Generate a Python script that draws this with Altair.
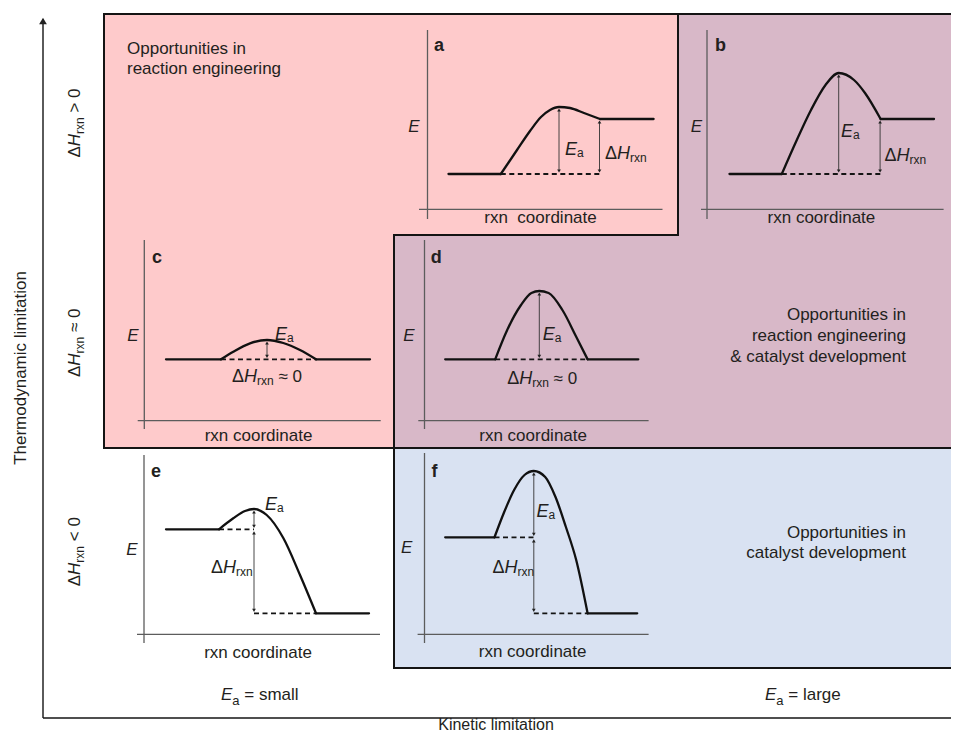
import altair as alt
import pandas as pd

INK = "#231f20"
FONT = "Liberation Sans"

# ---------------- background regions ----------------
REGION_X0 = [104, 678, 394, 394]
REGION_X1 = [678, 959, 959, 959]
REGION_Y0 = [14, 14, 235, 448]
REGION_Y1 = [448, 235, 448, 668]
REGION_FILL = ["#fecacb", "#d8b8c8", "#d8b8c8", "#d9e2f2"]

# region borders
BORDER_X0 = [104, 104, 678, 394, 394, 104, 394]
BORDER_Y0 = [14, 14, 14, 235, 235, 448, 668]
BORDER_X1 = [959, 104, 678, 678, 394, 959, 959]
BORDER_Y1 = [14, 448, 235, 235, 668, 448, 668]

# main axes (thermodynamic / kinetic limitation)
AXIS_X0 = [43, 43]
AXIS_Y0 = [718, 718]
AXIS_X1 = [43, 959]
AXIS_Y1 = [19, 718]
AXIS_TIP = (43, 17)

# ---------------- mini energy diagrams ----------------
PANELS = ["a", "b", "c", "d", "e", "f"]
VAXIS_X = [427.5, 707.0, 144.3, 424.5, 144.0, 424.5]
VAXIS_Y0 = [30, 30, 240, 240, 455, 453]
VAXIS_Y1 = [219, 219, 429, 429, 643, 643]
HAXIS_Y = [209.3, 209.3, 420.7, 420.7, 634.3, 634.3]
HAXIS_X0 = [419.0, 701.0, 137.7, 418.3, 137.0, 417.6]
HAXIS_X1 = [662.5, 943.6, 380.7, 648.6, 380.0, 648.6]

REACT_X0 = [448.5, 729.5, 166.0, 445.2, 166.0, 445.2]
REACT_X1 = [500.8, 781.8, 221.0, 495.2, 219.0, 494.5]
REACT_E = [174.0, 174.0, 359.3, 359.3, 529.3, 537.3]
PROD_X0 = [600.0, 880.6, 316.0, 587.6, 316.0, 587.6]
PROD_X1 = [653.6, 934.0, 370.0, 638.3, 369.0, 637.2]
PROD_E = [119.0, 119.0, 359.3, 359.3, 613.3, 613.3]
PEAK_X = [559.0, 838.7, 267.0, 539.3, 254.0, 533.8]
PEAK_E = [107.0, 73.0, 340.0, 291.0, 509.0, 471.0]

BARRIER_A_X = [500.8, 517, 530, 541, 550, 559, 570, 584, 600]
BARRIER_A_E = [174, 150, 131, 117, 110, 107, 108, 113, 119]
BARRIER_B_X = [781.8, 796.8, 811, 825.5, 838.7, 854, 865, 880.6]
BARRIER_B_E = [174, 140, 110, 85, 73, 80, 93, 119]
BARRIER_C_X = [221, 233.3, 250, 267, 283.3, 300, 316]
BARRIER_C_E = [359.3, 351.7, 343.3, 340, 343, 350, 359.3]
BARRIER_D_X = [495.2, 507.2, 521, 531.4, 539.3, 548.6, 562.4, 576.2, 587.6]
BARRIER_D_E = [359.3, 330, 305, 293, 291, 293, 310, 336.7, 359.3]
BARRIER_E_X = [219, 233.3, 245, 254, 266.7, 283.3, 300, 316]
BARRIER_E_E = [529.3, 518.3, 511, 509, 515, 538, 575, 613.3]
BARRIER_F_X = [494.5, 503.8, 514.1, 524.5, 533.8, 545.2, 555.5, 565.9, 576.2, 587.6]
BARRIER_F_E = [537.3, 513, 490, 475, 471, 477, 497, 527, 560, 613.3]
BARRIERS = [
    (BARRIER_A_X, BARRIER_A_E), (BARRIER_B_X, BARRIER_B_E),
    (BARRIER_C_X, BARRIER_C_E), (BARRIER_D_X, BARRIER_D_E),
    (BARRIER_E_X, BARRIER_E_E), (BARRIER_F_X, BARRIER_F_E),
]

# label anchors
LETTER_X = [434, 715, 152, 430.7, 151, 431.4]
LETTER_Y = [51, 51, 263, 263, 477, 477]
ELABEL_X = [414, 696.4, 133, 409, 132, 406.6]
ELABEL_Y = [132, 132, 341, 341, 555, 553]
RXN_TEXT = ["rxn\u00a0 coordinate", "rxn coordinate", "rxn coordinate",
            "rxn coordinate", "rxn coordinate", "rxn coordinate"]
RXN_X = [540.5, 821.4, 258.5, 533.1, 258, 532.6]
RXN_Y = [223, 223, 441, 441, 658, 657]
EA_X = [565, 841, 275, 542.8, 265, 536.6]
EA_Y = [155, 137, 340, 340, 510, 516.7]
DH_X = [605, 884.6, 232, 507.2, 211, 492.4]
DH_Y = [159, 161, 382, 384, 573, 573.3]
DH_SUFFIX = ["", "", " \u2248 0", " \u2248 0", "", ""]

ROW_SIGN = [" > 0", " \u2248 0", " < 0"]
ROW_CENTER_Y = [123, 342.5, 551.7]
ROW_BASE_X = 80

TL_LEFT_LINES = ["Opportunities in", "reaction engineering"]
TL_LEFT_Y = [54, 74]
MID_RIGHT_LINES = ["Opportunities in", "reaction engineering", "& catalyst development"]
MID_RIGHT_Y = [320, 341, 362]
LOW_RIGHT_LINES = ["Opportunities in", "catalyst development"]
LOW_RIGHT_Y = [538, 558]
RIGHT_EDGE = 906

EA_CLASS = ["small", "large"]
EA_CLASS_X = [221, 765]
EA_CLASS_Y = 700

# ---------------- helpers ----------------
W = {' ': .278, '\u00a0': .278, 'a': .556, 'b': .556, 'c': .5, 'd': .556, 'e': .556,
     'g': .556, 'i': .222, 'l': .222, 'm': .833, 'n': .556, 'o': .556, 'p': .556,
     'r': .333, 's': .5, 't': .278, 'u': .556, 'v': .5, 'x': .5, 'y': .5,
     'E': .667, 'H': .722, 'O': .778, 'K': .667, 'T': .611, '\u0394': .667,
     '=': .584, '>': .584, '<': .584, '\u2248': .584, '0': .556, '&': .667}


def tw(s, size):
    return sum(W.get(c, 0.556) for c in s) * size


texts = []


def add_text(x, y, text, size=17, style="normal", weight="normal", align="left", angle=0):
    texts.append(dict(x=x, y=y, text=text, size=size, style=style, weight=weight,
                      align=align, angle=angle))


def add_rich(x0, y0, segs, angle=0, center=False):
    total = sum(tw(t, s) for t, s, _, _ in segs)
    cur = 0.0
    if center:
        cur = -total / 2
    for t, s, st, dy in segs:
        lead = len(t) - len(t.lstrip(' '))
        cur += lead * W[' '] * s
        t2 = t.lstrip(' ')
        if angle == 0:
            add_text(x0 + cur, y0 + dy, t2, s, st, "normal", "left", 0)
        else:
            add_text(x0 + dy, y0 - cur, t2, s, st, "normal", "left", 270)
        cur += tw(t2, s)


for t, y in zip(TL_LEFT_LINES, TL_LEFT_Y):
    add_text(127, y, t)
for t, y in zip(MID_RIGHT_LINES, MID_RIGHT_Y):
    add_text(RIGHT_EDGE, y, t, align="right")
for t, y in zip(LOW_RIGHT_LINES, LOW_RIGHT_Y):
    add_text(RIGHT_EDGE, y, t, align="right")

for i, p in enumerate(PANELS):
    add_text(LETTER_X[i], LETTER_Y[i], p, 18, "normal", "bold")
    add_text(ELABEL_X[i], ELABEL_Y[i], "E", 17, "italic", "normal", "center")
    add_text(RXN_X[i], RXN_Y[i], RXN_TEXT[i], 17, align="center")
    add_rich(EA_X[i], EA_Y[i], [("E", 18, "italic", 0), ("a", 12, "normal", 2)])
    segs = [("\u0394", 18, "normal", 0), ("H", 18, "italic", 0), ("rxn", 12, "normal", 3)]
    if DH_SUFFIX[i]:
        segs.append((DH_SUFFIX[i], 17, "normal", 0))
    add_rich(DH_X[i], DH_Y[i], segs)

for sign, cy in zip(ROW_SIGN, ROW_CENTER_Y):
    add_rich(ROW_BASE_X, cy, [("\u0394", 17, "normal", 0), ("H", 17, "italic", 0),
                              ("rxn", 12, "normal", 4), (sign, 17, "normal", 0)],
             angle=270, center=True)

for cls, x in zip(EA_CLASS, EA_CLASS_X):
    add_rich(x, EA_CLASS_Y, [("E", 17, "italic", 0), ("a", 13, "normal", 5),
                             (" = " + cls, 17, "normal", 0)])

add_text(496, 730, "Kinetic limitation", 16, align="center")
add_text(26, 368, "Thermodynamic limitation", 17, align="center", angle=270)

# ---------------- data frames ----------------
regions = pd.DataFrame(dict(x0=REGION_X0, x1=REGION_X1, y0=REGION_Y0, y1=REGION_Y1,
                            fill=REGION_FILL))
borders = pd.DataFrame(dict(x0=BORDER_X0, y0=BORDER_Y0, x1=BORDER_X1, y1=BORDER_Y1))
axes = pd.DataFrame(dict(x0=AXIS_X0, y0=AXIS_Y0, x1=AXIS_X1, y1=AXIS_Y1))

mini = []
levels = []
dashed = []
arrows = []
heads = [dict(x=AXIS_TIP[0], y=AXIS_TIP[1] + 4, shape="triangle-up", size=60)]
curves = []
for i, p in enumerate(PANELS):
    mini.append(dict(x0=VAXIS_X[i], y0=VAXIS_Y0[i], x1=VAXIS_X[i], y1=VAXIS_Y1[i]))
    mini.append(dict(x0=HAXIS_X0[i], y0=HAXIS_Y[i], x1=HAXIS_X1[i], y1=HAXIS_Y[i]))
    levels.append(dict(x0=REACT_X0[i], y0=REACT_E[i], x1=REACT_X1[i], y1=REACT_E[i]))
    levels.append(dict(x0=PROD_X0[i], y0=PROD_E[i], x1=PROD_X1[i], y1=PROD_E[i]))
    bx, be = BARRIERS[i]
    for x, e in zip(bx, be):
        curves.append(dict(id=p, x=x, y=e))
    # activation-energy arrow
    arr = [(PEAK_X[i], PEAK_E[i] + 1, REACT_E[i] - 1)]
    if REACT_E[i] > PROD_E[i]:      # endothermic: dashed reactant level
        dashed.append(dict(x0=REACT_X1[i], y0=REACT_E[i], x1=PROD_X0[i] + 1, y1=REACT_E[i]))
        arr.append((PROD_X0[i] - 0.5, PROD_E[i] + 1, REACT_E[i] - 1))
    elif REACT_E[i] < PROD_E[i]:    # exothermic
        dashed.append(dict(x0=REACT_X1[i], y0=REACT_E[i], x1=PEAK_X[i], y1=REACT_E[i]))
        dashed.append(dict(x0=PEAK_X[i], y0=PROD_E[i], x1=PROD_X0[i], y1=PROD_E[i]))
        arr.append((PEAK_X[i], REACT_E[i] + 1.5, PROD_E[i] - 1))
    else:
        dashed.append(dict(x0=REACT_X1[i], y0=REACT_E[i], x1=PROD_X0[i], y1=REACT_E[i]))
    for ax_, top, bot in arr:
        arrows.append(dict(x0=ax_, y0=top + 2, x1=ax_, y1=bot - 2))
        heads.append(dict(x=ax_, y=top + 2, shape="triangle-up", size=14))
        heads.append(dict(x=ax_, y=bot - 2, shape="triangle-down", size=14))

mini = pd.DataFrame(mini)
levels = pd.DataFrame(levels)
dashed = pd.DataFrame(dashed)
arrows = pd.DataFrame(arrows)
heads = pd.DataFrame(heads)
curves = pd.DataFrame(curves)
texts_df = pd.DataFrame(texts)

# page pixel = reference pixel (8px page margin)
XS = alt.Scale(domain=[8, 951], nice=False, zero=False)
YS = alt.Scale(domain=[8, 735], nice=False, zero=False, reverse=True)


def seg_chart(df, **mark):
    return alt.Chart(df).mark_rule(**mark).encode(
        x=alt.X("x0:Q", scale=XS, axis=None), y=alt.Y("y0:Q", scale=YS, axis=None),
        x2="x1:Q", y2="y1:Q")


layers = []
layers.append(alt.Chart(regions).mark_rect(strokeWidth=0, clip=True).encode(
    x=alt.X("x0:Q", scale=XS, axis=None), x2="x1:Q",
    y=alt.Y("y0:Q", scale=YS, axis=None), y2="y1:Q",
    color=alt.Color("fill:N", scale=None)))
layers.append(seg_chart(borders, color="#141414", strokeWidth=2, strokeCap="square", clip=True))
layers.append(seg_chart(axes, color="#141414", strokeWidth=1.4, clip=True))
layers.append(seg_chart(mini, color="#5c5c5c", strokeWidth=1.3))
layers.append(seg_chart(dashed, color="#141414", strokeWidth=1.8, strokeDash=[5, 3.5]))
layers.append(seg_chart(arrows, color="#333333", strokeWidth=0.9))
layers.append(seg_chart(levels, color="#111111", strokeWidth=2.3, strokeCap="round"))
layers.append(alt.Chart(curves).mark_line(
    interpolate="monotone", color="#111111", strokeWidth=2.3, strokeCap="round").encode(
    x=alt.X("x:Q", scale=XS, axis=None), y=alt.Y("y:Q", scale=YS, axis=None),
    detail="id:N"))
layers.append(alt.Chart(heads).mark_point(filled=True, color="#222222", opacity=1,
                                          strokeWidth=0).encode(
    x=alt.X("x:Q", scale=XS, axis=None), y=alt.Y("y:Q", scale=YS, axis=None),
    shape=alt.Shape("shape:N", scale=None),
    size=alt.Size("size:Q", scale=None, legend=None)))

for (style, weight, align), sub in texts_df.groupby(["style", "weight", "align"]):
    layers.append(alt.Chart(sub.reset_index(drop=True)).mark_text(
        font=FONT, fontStyle=style, fontWeight=weight, align=align,
        baseline="alphabetic", color=INK).encode(
        x=alt.X("x:Q", scale=XS, axis=None), y=alt.Y("y:Q", scale=YS, axis=None),
        text="text:N",
        size=alt.Size("size:Q", scale=None, legend=None),
        angle=alt.Angle("angle:Q", scale=None)))

chart = alt.layer(*layers).properties(
    width=943, height=727, padding=0,
    autosize=alt.AutoSizeParams(type="none"),
).configure_view(stroke=None)

chart.save("out.html", embed_options={"renderer": "svg", "actions": False})
